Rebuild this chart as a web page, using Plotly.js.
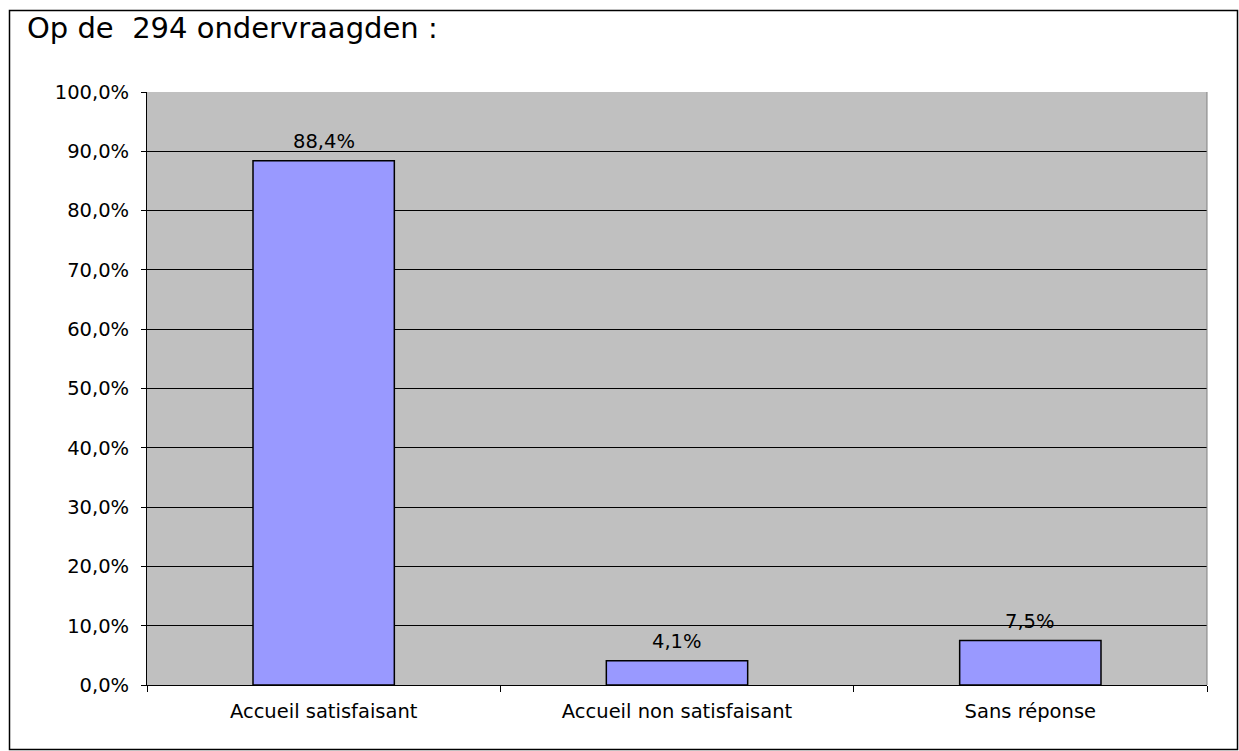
<!DOCTYPE html>
<html>
<head>
<meta charset="utf-8">
<script src="https://cdn.plot.ly/plotly-3.0.1.min.js"></script>
<style>html,body{margin:0;padding:0;background:#fff;}#chart{width:1239px;height:751px;}</style>
</head>
<body>
<div id="chart"></div>
<script>
const categories = ["Accueil satisfaisant", "Accueil non satisfaisant", "Sans réponse"];
const values = [88.4, 4.1, 7.5];
const valueLabels = ["88,4%", "4,1%", "7,5%"];
const yTickValues = [0, 10, 20, 30, 40, 50, 60, 70, 80, 90, 100];
const yTickLabels = ["0,0%", "10,0%", "20,0%", "30,0%", "40,0%", "50,0%", "60,0%", "70,0%", "80,0%", "90,0%", "100,0%"];
const titleText = "Op de\u00a0\u00a0294 ondervraagden :";

const font = "DejaVu Sans, Verdana, sans-serif";

const trace = {
  type: "bar",
  x: categories,
  y: values,
  marker: {color: "#9999FF", line: {color: "#000000", width: 1.5}},
  hoverinfo: "none"
};

const annotations = categories.map((c, i) => ({
  x: c, y: values[i], xref: "x", yref: "y",
  text: valueLabels[i], showarrow: false,
  xanchor: "center", yanchor: "bottom", yshift: 6,
  font: {family: font, size: 19.5, color: "#000"}
}));

const layout = {
  width: 1239, height: 751,
  margin: {l: 147, r: 32, t: 92, b: 66},
  paper_bgcolor: "#ffffff",
  plot_bgcolor: "#C0C0C0",
  showlegend: false,
  bargap: 0.6,
  font: {family: font, size: 19, color: "#000"},
  title: {
    text: titleText,
    font: {family: font, size: 29, color: "#000"},
    x: 27/1239, xref: "container", xanchor: "left",
    y: 1 - 18/751, yref: "container", yanchor: "top"
  },
  xaxis: {
    type: "category",
    showgrid: false,
    showline: true, linecolor: "#000", linewidth: 1,
    ticks: "outside", tickson: "boundaries", ticklen: 6, tickcolor: "#000",
    tickfont: {family: font, size: 19.5, color: "#000"},
    ticklabelstandoff: 9,
    fixedrange: true
  },
  yaxis: {
    range: [0, 100],
    tickmode: "array",
    tickvals: yTickValues,
    ticktext: yTickLabels,
    showgrid: true, gridcolor: "#000", gridwidth: 1,
    showline: true, linecolor: "#000", linewidth: 1,
    ticks: "outside", ticklen: 5, tickcolor: "#000",
    tickfont: {family: font, size: 19.5, color: "#000"},
    ticklabelstandoff: 8,
    zeroline: false,
    fixedrange: true
  },
  annotations: annotations,
  shapes: [
    {type: "line", xref: "paper", yref: "paper", x0: 1, x1: 1, y0: 0, y1: 1,
     line: {color: "#808080", width: 1}},
    {type: "rect", xref: "paper", yref: "paper",
     x0: (9.5 - 147) / 1060, x1: (1237.5 - 147) / 1060,
     y0: (685 - 749.5) / 593, y1: (685 - 10.5) / 593,
     line: {color: "#000", width: 1.5}, fillcolor: "rgba(0,0,0,0)", layer: "above"}
  ]
};

Plotly.newPlot("chart", [trace], layout, {displayModeBar: false, staticPlot: true});
</script>
</body>
</html>
